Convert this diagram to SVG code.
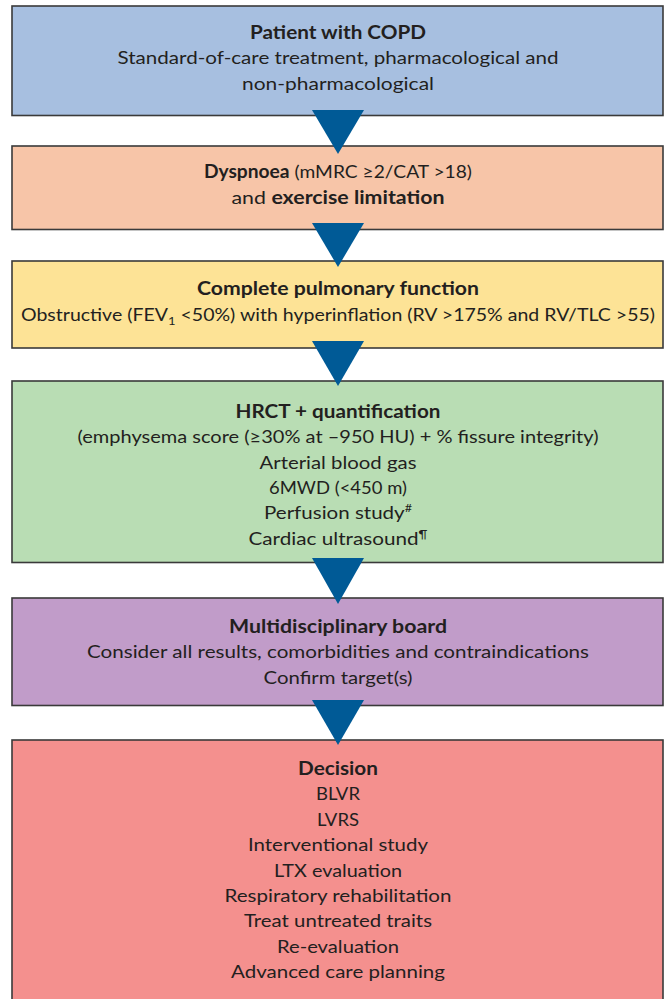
<svg xmlns="http://www.w3.org/2000/svg" width="667" height="999" viewBox="0 0 667 999">
<style>
  .box { stroke: #3a3a3a; stroke-width: 1.6; }
  .t { font-family: Lato, "Liberation Sans", sans-serif; font-size: 18px; fill: #231f20; text-anchor: middle; }
  .b { font-weight: 700; }
  .arrow { fill: #005a96; }
</style>
<rect x="0" y="0" width="667" height="999" fill="#ffffff"/>

<g id="node-patient">
  <rect class="box" x="12" y="6" width="651" height="109.5" fill="#a7bfe0"/>
  <text class="t b" x="338" y="38.5" textLength="176" lengthAdjust="spacingAndGlyphs">Patient with COPD</text>
  <text class="t" x="338" y="64" textLength="441" lengthAdjust="spacingAndGlyphs">Standard-of-care treatment, pharmacological and</text>
  <text class="t" x="338" y="89.5" textLength="192" lengthAdjust="spacingAndGlyphs">non-pharmacological</text>
</g>

<g id="node-dyspnoea">
  <rect class="box" x="12" y="146" width="651" height="83.5" fill="#f7c5a8"/>
  <text class="t" x="338" y="178" textLength="268" lengthAdjust="spacingAndGlyphs"><tspan class="b">Dyspnoea</tspan> (mMRC ≥2/CAT &gt;18)</text>
  <text class="t" x="338" y="203.5" textLength="213" lengthAdjust="spacingAndGlyphs">and <tspan class="b">exercise limitation</tspan></text>
</g>

<g id="node-pulmonary">
  <rect class="box" x="12" y="261" width="651" height="87" fill="#fde396"/>
  <text class="t b" x="338" y="295" textLength="282" lengthAdjust="spacingAndGlyphs">Complete pulmonary function</text>
  <text class="t" x="338" y="321" textLength="634" lengthAdjust="spacingAndGlyphs">Obstructive (FEV<tspan font-size="12" dy="4">1</tspan><tspan dy="-4"> &lt;50%) with hyperinflation (RV &gt;175% and RV/TLC &gt;55)</tspan></text>
</g>

<g id="node-hrct">
  <rect class="box" x="12" y="381" width="651" height="181.5" fill="#b9ddb4"/>
  <text class="t b" x="338" y="417.5" textLength="205" lengthAdjust="spacingAndGlyphs">HRCT + quantification</text>
  <text class="t" x="338" y="443" textLength="521" lengthAdjust="spacingAndGlyphs">(emphysema score (≥30% at –950 HU) + % fissure integrity)</text>
  <text class="t" x="338" y="468.5" textLength="157" lengthAdjust="spacingAndGlyphs">Arterial blood gas</text>
  <text class="t" x="338" y="493.5" textLength="138" lengthAdjust="spacingAndGlyphs">6MWD (&lt;450 m)</text>
  <text class="t" x="338" y="519" textLength="148" lengthAdjust="spacingAndGlyphs">Perfusion study<tspan font-size="11" dy="-7">#</tspan></text>
  <text class="t" x="338" y="544.5" textLength="179" lengthAdjust="spacingAndGlyphs">Cardiac ultrasound<tspan font-size="11" dy="-7">¶</tspan></text>
</g>

<g id="node-board">
  <rect class="box" x="12" y="598" width="651" height="107.5" fill="#c19cc9"/>
  <text class="t b" x="338" y="632.5" textLength="218" lengthAdjust="spacingAndGlyphs">Multidisciplinary board</text>
  <text class="t" x="338" y="658" textLength="502" lengthAdjust="spacingAndGlyphs">Consider all results, comorbidities and contraindications</text>
  <text class="t" x="338" y="684" textLength="149" lengthAdjust="spacingAndGlyphs">Confirm target(s)</text>
</g>

<g id="node-decision">
  <rect class="box" x="12" y="740" width="651" height="280" fill="#f4908e"/>
  <text class="t b" x="338" y="775" textLength="80" lengthAdjust="spacingAndGlyphs">Decision</text>
  <text class="t" x="338" y="800.4" textLength="44" lengthAdjust="spacingAndGlyphs">BLVR</text>
  <text class="t" x="338" y="825.8" textLength="42" lengthAdjust="spacingAndGlyphs">LVRS</text>
  <text class="t" x="338" y="851.2" textLength="180" lengthAdjust="spacingAndGlyphs">Interventional study</text>
  <text class="t" x="338" y="876.6" textLength="128" lengthAdjust="spacingAndGlyphs">LTX evaluation</text>
  <text class="t" x="338" y="902" textLength="227" lengthAdjust="spacingAndGlyphs">Respiratory rehabilitation</text>
  <text class="t" x="338" y="927.4" textLength="188" lengthAdjust="spacingAndGlyphs">Treat untreated traits</text>
  <text class="t" x="338" y="952.8" textLength="122" lengthAdjust="spacingAndGlyphs">Re-evaluation</text>
  <text class="t" x="338" y="978.2" textLength="214" lengthAdjust="spacingAndGlyphs">Advanced care planning</text>
</g>

<g id="connectors">
  <polygon class="arrow" points="312,110 364,110 338,154"/>
  <polygon class="arrow" points="312,223 364,223 338,267"/>
  <polygon class="arrow" points="312,341 364,341 338,386"/>
  <polygon class="arrow" points="312,558 364,558 338,604"/>
  <polygon class="arrow" points="312,700 364,700 338,745"/>
</g>
</svg>
